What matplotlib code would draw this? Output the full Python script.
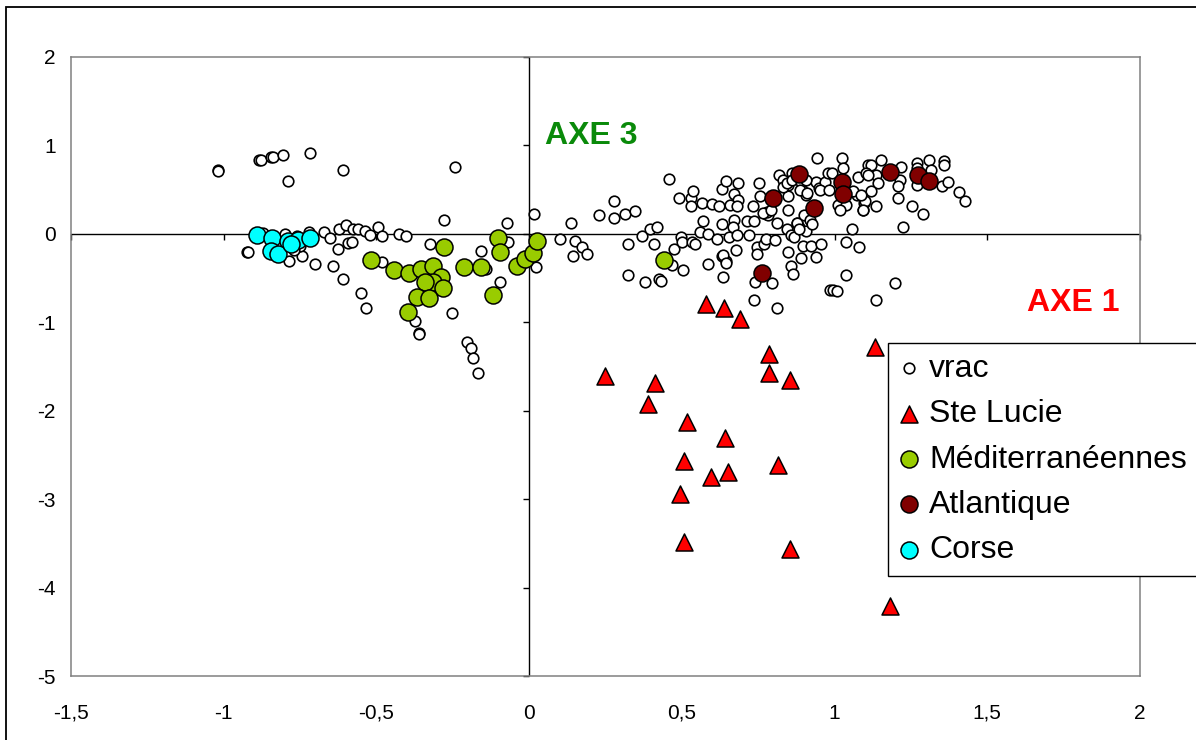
import numpy as np
import matplotlib.pyplot as plt
from matplotlib.patches import Rectangle

plt.rcParams['font.family'] = ['Liberation Sans', 'DejaVu Sans']

# --- data ---
vrac_x = [-1.02, -1.02, -0.883, -0.878, -0.845, -0.840, -0.806, -0.716, -0.789, -0.611, -0.242,
          -0.923, -0.92, -0.722, -0.743, -0.787, -0.749, -0.87, -0.80, -0.76, -0.82, -0.77,
          -0.700, -0.643, -0.627, -0.673, -0.651, -0.622, -0.600, -0.593, -0.580, -0.577, -0.560,
          -0.536, -0.522, -0.495, -0.611, -0.550, -0.533, -0.482, -0.482, -0.426, -0.403, -0.375,
          -0.362, -0.359, -0.326, -0.280, -0.253, -0.157, -0.095, -0.073, -0.068, -0.141, -0.204,
          -0.191, -0.185, -0.169, 0.016, 0.023,
          0.101, 0.138, 0.150, 0.172, 0.145, 0.191, 0.229, 0.279, 0.279, 0.314, 0.347, 0.323, 0.323,
          0.370, 0.396, 0.420, 0.408, 0.379, 0.425, 0.432, 0.467, 0.475, 0.497, 0.499, 0.503,
          0.459, 0.492, 0.531, 0.536, 0.531, 0.565, 0.598, 0.622, 0.569, 0.559, 0.587, 0.614,
          0.532, 0.543, 0.587, 0.636, 0.632, 0.644, 0.632, 0.643, 0.632, 0.653,
          0.752, 0.756, 0.685, 0.671, 0.685, 0.658, 0.679, 0.712, 0.736, 0.671, 0.668, 0.679, 0.721,
          0.745, 0.769, 0.745, 0.777, 0.804, 0.739, 0.794, 0.737, 0.810, 0.775, 0.783, 0.810,
          0.819, 0.832, 0.848, 0.861, 0.848, 0.848, 0.843, 0.856, 0.867, 0.849, 0.856, 0.865, 0.890,
          0.876, 0.884, 0.906, 0.897, 0.922, 0.939, 0.955, 0.892, 0.900, 0.919, 0.925,
          0.944, 0.939, 0.950, 0.968, 0.979, 0.985, 1.025, 1.028, 0.990, 0.952, 0.982,
          0.906, 0.878, 0.883, 1.077, 1.105, 1.110, 1.072, 1.096, 1.092, 1.061, 1.012, 1.039, 1.017,
          1.058, 1.039, 1.081, 1.039, 0.995, 1.007, 0.734, 0.778, 0.766, 0.791, 0.832, 0.843, 0.859,
          0.890, 0.906, 0.886, 0.910, 0.636, 0.677, 0.645,
          1.151, 1.119, 1.102, 1.135, 1.143, 1.119, 1.099, 1.094, 1.135, 1.088, 1.110,
          1.219, 1.214, 1.208, 1.208, 1.270, 1.270, 1.309, 1.317, 1.359, 1.359, 1.270, 1.353, 1.370,
          1.252, 1.290, 1.408, 1.426, 1.224, 1.197, 1.135]
vrac_y = [0.72, 0.71, 0.83, 0.83, 0.87, 0.87, 0.89, 0.91, 0.60, 0.72, 0.76,
          -0.21, -0.20, 0.02, -0.25, -0.31, -0.14, 0.01, 0.00, -0.02, -0.12, -0.18,
          -0.34, -0.36, -0.17, 0.02, -0.05, 0.05, 0.10, -0.10, -0.09, 0.05, 0.05,
          0.03, -0.01, 0.08, -0.51, -0.67, -0.84, -0.32, -0.02, 0.00, -0.02, -0.98,
          -1.12, -1.13, -0.11, 0.16, -0.90, -0.19, -0.54, 0.12, -0.09, -0.40, -1.22,
          -1.29, -1.40, -1.57, 0.22, -0.38,
          -0.06, 0.12, -0.08, -0.15, -0.25, -0.23, 0.21, 0.37, 0.18, 0.23, 0.26, -0.11, -0.46,
          -0.02, 0.06, 0.08, -0.11, -0.54, -0.51, -0.53, -0.35, -0.17, -0.03, -0.09, -0.41,
          0.62, 0.41, 0.41, 0.49, 0.31, 0.35, 0.34, 0.31, 0.14, 0.02, 0.00, -0.06,
          -0.09, -0.11, -0.34, -0.49, -0.25, -0.31, 0.51, 0.60, 0.11, -0.03,
          0.58, 0.43, 0.58, 0.45, 0.38, 0.33, 0.32, 0.14, 0.14, 0.16, 0.08, -0.01, -0.01,
          -0.15, -0.11, -0.23, -0.06, -0.07, -0.54, -0.56, -0.75, -0.84, 0.23, 0.21, 0.12,
          0.67, 0.61, 0.55, 0.69, 0.43, 0.27, 0.05, -0.01, -0.04, -0.21, -0.36, -0.45, -0.27,
          0.12, 0.08, 0.03, -0.14, -0.14, -0.26, -0.11, 0.50, 0.21, 0.16, 0.11,
          0.86, 0.59, 0.52, 0.59, 0.69, -0.63, 0.86, 0.74, 0.69, 0.50, 0.50,
          0.44, 0.12, 0.05, 0.64, 0.69, 0.78, 0.44, 0.35, 0.27, 0.48, 0.33, 0.33, 0.27,
          0.05, -0.09, -0.15, -0.47, -0.63, -0.65, 0.32, 0.25, 0.24, 0.27, 0.53, 0.57, 0.61,
          0.59, 0.61, 0.50, 0.46, -0.24, -0.18, -0.33,
          0.84, 0.78, 0.69, 0.67, 0.57, 0.48, 0.37, 0.27, 0.32, 0.44, 0.67,
          0.76, 0.61, 0.54, 0.41, 0.80, 0.74, 0.84, 0.72, 0.82, 0.78, 0.55, 0.54, 0.59,
          0.32, 0.22, 0.47, 0.37, 0.08, -0.56, -0.75]

lucie_x = [0.578, 0.639, 0.690, 0.785, 0.785, 0.853, 1.133, 0.249, 0.411, 0.388,
           0.517, 0.640, 0.506, 0.595, 0.651, 0.814, 0.495, 0.506, 0.853, 1.181]
lucie_y = [-0.79, -0.84, -0.96, -1.36, -1.57, -1.65, -1.28, -1.61, -1.69, -1.92,
           -2.13, -2.31, -2.57, -2.75, -2.69, -2.61, -2.94, -3.48, -3.56, -4.21]

medit_x = [-0.517, -0.442, -0.392, -0.353, -0.315, -0.290, -0.315, -0.342, -0.281, -0.367,
           -0.329, -0.398, -0.280, -0.213, -0.157, -0.101, -0.097, -0.119, -0.040, -0.015,
           0.011, 0.025, 0.443]
medit_y = [-0.30, -0.41, -0.44, -0.40, -0.36, -0.49, -0.55, -0.54, -0.61, -0.71,
           -0.73, -0.88, -0.15, -0.38, -0.38, -0.05, -0.21, -0.69, -0.36, -0.28,
           -0.22, -0.08, -0.29]

atl_x = [0.883, 0.799, 0.933, 1.024, 1.028, 0.764, 1.180, 1.274, 1.308]
atl_y = [0.68, 0.41, 0.29, 0.59, 0.45, -0.44, 0.70, 0.67, 0.60]

corse_x = [-0.891, -0.842, -0.791, -0.758, -0.716, -0.845, -0.822, -0.780]
corse_y = [-0.01, -0.05, -0.08, -0.07, -0.05, -0.19, -0.23, -0.12]

x_ticks = [-1.5, -1, -0.5, 0, 0.5, 1, 1.5, 2]
x_tick_labels = ['-1,5', '-1', '-0,5', '0', '0,5', '1', '1,5', '2']
y_ticks = [-5, -4, -3, -2, -1, 0, 1, 2]
y_tick_labels = ['-5', '-4', '-3', '-2', '-1', '0', '1', '2']

fig = plt.figure(figsize=(11.96, 7.4), dpi=100)
ax = fig.add_axes([71/1196, 1 - 676/740, (1140 - 71)/1196, (676 - 57)/740])

ax.set_xlim(-1.5, 2)
ax.set_ylim(-5, 2)
ax.set_xticks(x_ticks, labels=x_tick_labels)
ax.set_yticks(y_ticks, labels=y_tick_labels)
ax.tick_params(axis='x', length=0, pad=20, labelsize=15)
ax.tick_params(axis='y', length=0, pad=11, labelsize=15)
for s in ax.spines.values():
	s.set_color('#808080')
	s.set_linewidth(1.1)

# axes through the origin with small tick marks
ax.axhline(0, color='black', lw=1, zorder=2)
ax.axvline(0, color='black', lw=1, zorder=2)
ax.plot(x_ticks, np.zeros(len(x_ticks)), ls='none', marker=3, ms=4, mew=1, color='black', clip_on=False, zorder=2)
ax.plot(np.zeros(len(y_ticks)), y_ticks, ls='none', marker=0, ms=4, mew=1, color='black', clip_on=False, zorder=2)

ax.scatter(vrac_x, vrac_y, s=58, marker='o', facecolor='white', edgecolor='black', linewidth=1.2, zorder=3, label='vrac')
ax.scatter(lucie_x, lucie_y, s=150, marker='^', facecolor='#FF0000', edgecolor='black', linewidth=1.1, zorder=4, label='Ste Lucie')
ax.scatter(medit_x, medit_y, s=150, marker='o', facecolor='#99CC00', edgecolor='black', linewidth=1.1, zorder=4, label='Méditerranéennes')
ax.scatter(atl_x, atl_y, s=150, marker='o', facecolor='#800000', edgecolor='black', linewidth=1.1, zorder=4, label='Atlantique')
ax.scatter(corse_x, corse_y, s=150, marker='o', facecolor='#00FFFF', edgecolor='black', linewidth=1.1, zorder=4, label='Corse')

ax.text(0.052, 1.11, 'AXE 3', color='#0A8A0A', fontsize=23, fontweight='bold', va='center', ha='left')
ax.text(1.629, -0.785, 'AXE 1', color='#FF0000', fontsize=23, fontweight='bold', va='center', ha='left')

# legend box runs past the right edge of the picture, as in the original
leg = fig.legend(loc='upper left', bbox_to_anchor=(888/1196, 0, 0.3, 1 - 343/740), mode='expand',
                 fontsize=23, frameon=True, fancybox=False, framealpha=1, edgecolor='black',
                 borderpad=0.34, borderaxespad=0, handlelength=0.63, handletextpad=0.31,
                 labelspacing=0.48, scatterpoints=1)
leg.get_frame().set_linewidth(1)

fig.add_artist(Rectangle((6/1196, -0.1), 1.2, 1 - 7/740 + 0.1, fill=False, lw=1.3,
                         edgecolor='black', transform=fig.transFigure))

fig.savefig('out.png', dpi=100)
